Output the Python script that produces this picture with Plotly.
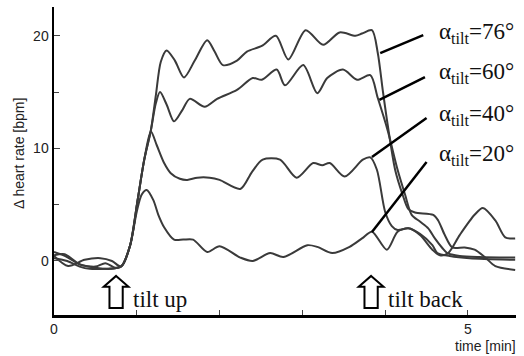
import plotly.graph_objects as go

# ---- data (time in min, delta heart rate in bpm) ----
t76 = [0.00,0.13,0.31,0.50,0.68,0.81,0.92,1.01,1.09,1.17,1.23,1.29,1.36,1.46,1.57,1.70,1.85,1.94,2.04,2.21,2.33,2.51,2.68,2.83,3.04,3.25,3.45,3.64,3.72,3.84,3.91,3.97,4.03,4.12,4.21,4.28,4.36,4.58,4.64,4.72,4.81,4.96,5.08,5.21,5.33,5.57]
y76 = [0.8,0.45,-0.3,-0.6,-0.7,-0.5,1.4,5.4,9.0,11.6,14.7,17.7,18.7,17.8,16.3,17.8,19.6,18.6,17.4,17.8,18.6,19.1,20.0,17.9,20.5,19.2,20.3,20.0,20.2,20.5,18.5,15.2,12.1,8.1,5.9,4.6,4.3,4.1,3.6,2.3,1.2,1.2,1.0,0.3,-0.45,-0.8]

t60 = [0.00,0.13,0.31,0.50,0.62,0.74,0.81,0.92,1.01,1.09,1.17,1.23,1.28,1.36,1.45,1.55,1.64,1.82,1.97,2.21,2.40,2.51,2.69,2.79,3.01,3.18,3.30,3.49,3.66,3.82,3.91,4.03,4.15,4.24,4.32,4.42,4.52,4.60,4.69,4.75,4.90,5.14,5.57]
y60 = [0.5,0.6,-0.3,-0.5,-0.2,-0.6,-0.5,1.4,5.4,9.0,11.6,14.0,15.0,13.9,12.4,13.4,14.4,13.7,14.4,15.2,16.25,16.1,17.0,15.6,17.4,14.9,16.25,17.0,16.1,16.5,14.5,11.6,8.1,5.9,4.1,3.5,2.9,2.0,1.15,0.7,0.45,0.35,0.3]

t40 = [0.00,0.16,0.31,0.43,0.62,0.77,0.83,0.92,1.01,1.09,1.17,1.24,1.33,1.41,1.52,1.61,1.73,1.88,2.00,2.25,2.39,2.52,2.73,2.93,3.13,3.24,3.33,3.51,3.73,3.82,3.90,4.00,4.08,4.15,4.28,4.42,4.57,4.63,4.78,5.02,5.57]
y40 = [0.25,0.0,-0.5,-0.7,-0.7,-0.6,-0.35,1.4,5.4,9.0,11.5,10.3,8.7,7.8,7.3,7.2,7.4,7.4,7.2,6.4,7.9,9.0,9.0,7.4,8.7,8.5,8.7,7.5,9.0,9.2,8.1,4.35,3.1,2.75,2.9,2.4,1.4,0.7,0.45,0.25,0.1]

t20 = [0.00,0.17,0.37,0.56,0.70,0.81,0.92,1.00,1.06,1.12,1.20,1.26,1.33,1.45,1.56,1.68,1.85,2.00,2.25,2.40,2.61,2.77,3.06,3.18,3.36,3.57,3.72,3.84,4.02,4.15,4.28,4.42,4.57,4.66,4.76,4.90,5.08,5.18,5.33,5.45,5.57]
y20 = [0.45,-0.45,0.1,0.25,0.0,-0.5,1.4,4.4,5.9,6.3,5.4,4.1,3.0,1.9,1.9,1.9,0.8,1.3,0.3,0.0,0.7,0.35,1.4,1.25,0.7,1.25,2.0,2.6,1.0,2.6,2.9,2.3,1.0,0.5,0.7,2.3,4.1,4.7,3.6,2.1,2.0]

series = [("76", t76, y76), ("60", t60, y60), ("40", t40, y40), ("20", t20, y20)]

# label anchor (left edge, y) and leader line (from label to curve)
label_pos = {"76": (4.62, 20.25), "60": (4.62, 16.7), "40": (4.62, 12.97), "20": (4.62, 9.41)}
leaders = {"76": (4.46, 20.07, 3.94, 18.47), "60": (4.48, 16.34, 3.93, 14.30),
           "40": (4.50, 12.70, 3.84, 9.24), "20": (4.50, 8.79, 3.84, 2.58)}

tilt_up_t = 0.75
tilt_back_t = 3.83

xtick_vals = [0, 5]
xtick_text = ["0", "5"]
ytick_vals = [0, 10, 20]
ytick_text = ["0", "10", "20"]

LINE = "#3a3a3a"
SERIF = "Liberation Serif"
SANS = "Liberation Sans"

fig = go.Figure()
for name, t, y in series:
    fig.add_trace(go.Scatter(x=t, y=y, mode="lines", name=name,
                             line=dict(color=LINE, width=2, shape="spline", smoothing=0.8),
                             hoverinfo="skip", showlegend=False))

shapes = []
annotations = []
for name, (x0, y0, x1, y1) in leaders.items():
    shapes.append(dict(type="line", xref="x", yref="y", x0=x0, y0=y0, x1=x1, y1=y1,
                       line=dict(color="black", width=2.5)))
for name, (lx, ly) in label_pos.items():
    annotations.append(dict(x=lx, y=ly, xref="x", yref="y", xanchor="left", yanchor="middle",
                            text=f"α<sub>tilt</sub>={name}°", showarrow=False,
                            font=dict(family=SERIF, size=23, color="#111")))


def arrow_path(t):
    hw, sw, tip, base, bot = 0.15, 0.08, -1.33, -2.3, -4.17
    return (f"M {t},{tip} L {t+hw},{base} L {t+sw},{base} L {t+sw},{bot} "
            f"L {t-sw},{bot} L {t-sw},{base} L {t-hw},{base} Z")


for tt in (tilt_up_t, tilt_back_t):
    shapes.append(dict(type="path", xref="x", yref="y", path=arrow_path(tt),
                       fillcolor="white", line=dict(color="black", width=2)))

annotations.append(dict(x=tilt_up_t + 0.18, y=-3.46, xref="x", yref="y", xanchor="left",
                        yanchor="middle", text="tilt up", showarrow=False,
                        font=dict(family=SERIF, size=23, color="#111")))
annotations.append(dict(x=tilt_back_t + 0.18, y=-3.46, xref="x", yref="y", xanchor="left",
                        yanchor="middle", text="tilt back", showarrow=False,
                        font=dict(family=SERIF, size=23, color="#111")))

annotations.append(dict(x=1.004, y=-0.10, xref="paper", yref="paper", xanchor="right",
                        yanchor="middle", text="time [min]", showarrow=False,
                        font=dict(family=SANS, size=14, color="#222")))
annotations.append(dict(x=-0.0758, y=0.526, xref="paper", yref="paper", xanchor="center",
                        yanchor="middle", text="Δ heart rate [bpm]", textangle=-90,
                        showarrow=False, font=dict(family=SANS, size=14, color="#222")))

fig.update_layout(
    width=524, height=356,
    margin=dict(l=54, r=8, t=7, b=41),
    paper_bgcolor="white", plot_bgcolor="white",
    shapes=shapes, annotations=annotations,
    font=dict(family=SANS, size=14, color="#222"),
)
fig.update_xaxes(range=[0, 5.58], showgrid=False, zeroline=False,
                 showline=True, linecolor="black", linewidth=2.5,
                 ticks="inside", ticklen=5, tickwidth=1, tickcolor="#444",
                 tickvals=xtick_vals, ticktext=xtick_text,
                 minor=dict(dtick=1, tick0=0, ticks="inside", ticklen=5, tickcolor="#444"),
                 tickfont=dict(family=SANS, size=14, color="#222"))
fig.update_yaxes(range=[-4.8, 22.56], showgrid=False, zeroline=False,
                 showline=True, linecolor="black", linewidth=2.5,
                 ticks="inside", ticklen=6, tickwidth=1, tickcolor="#444",
                 tickvals=ytick_vals, ticktext=ytick_text,
                 minor=dict(dtick=5, tick0=0, ticks="inside", ticklen=5, tickcolor="#444"),
                 tickfont=dict(family=SANS, size=14, color="#222"))

fig.write_html("out.html", config={"displayModeBar": False, "staticPlot": True},
               post_script="document.body.style.margin='0';document.body.style.overflow='hidden';")
